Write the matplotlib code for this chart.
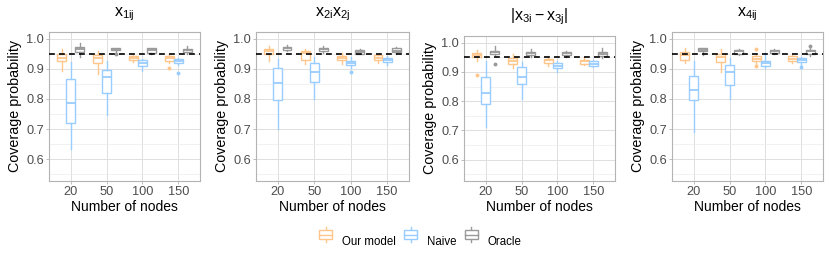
import matplotlib
matplotlib.use("Agg")
import matplotlib.pyplot as plt
from matplotlib.legend_handler import HandlerBase
from matplotlib.lines import Line2D
from matplotlib.patches import Rectangle

plt.rcParams["font.family"] = ["Liberation Sans", "DejaVu Sans"]
plt.rcParams["mathtext.fontset"] = "custom"
plt.rcParams["mathtext.rm"] = "Liberation Sans"
plt.rcParams["mathtext.it"] = "Liberation Sans"

sizes = ["20", "50", "100", "150"]
methods = ["Our model", "Naive", "Oracle"]
colors = ["#FFC68C", "#99CCFF", "#999999"]
titles = [r"$\mathrm{x_{1ij}}$", r"$\mathrm{x_{2i}x_{2j}}$",
          r"$|\mathrm{x_{3i}}-\mathrm{x_{3j}}|$", r"$\mathrm{x_{4ij}}$"]

# five-number summaries per node count: (whisker low, q1, median, q3, whisker high)
p1_ours = [(0.893, 0.926, 0.937, 0.948, 0.967), (0.882, 0.921, 0.937, 0.945, 0.960),
           (0.924, 0.931, 0.937, 0.943, 0.945), (0.921, 0.926, 0.935, 0.943, 0.948)]
p1_naive = [(0.635, 0.720, 0.787, 0.866, 0.923), (0.747, 0.819, 0.874, 0.896, 0.926),
            (0.893, 0.911, 0.920, 0.929, 0.932), (0.912, 0.919, 0.926, 0.932, 0.937)]
p1_oracle = [(0.940, 0.957, 0.965, 0.972, 0.985), (0.950, 0.962, 0.965, 0.968, 0.970),
             (0.948, 0.954, 0.962, 0.968, 0.970), (0.950, 0.956, 0.962, 0.967, 0.975)]
p1_fliers = {"Our model": [[], [], [], [0.904]], "Naive": [[], [], [], [0.886]],
             "Oracle": [[], [0.948], [], []]}

p2_ours = [(0.926, 0.948, 0.959, 0.967, 0.975), (0.915, 0.928, 0.954, 0.961, 0.967),
           (0.917, 0.929, 0.935, 0.942, 0.954), (0.920, 0.931, 0.937, 0.945, 0.950)]
p2_naive = [(0.700, 0.796, 0.853, 0.904, 0.932), (0.800, 0.858, 0.891, 0.921, 0.939),
            (0.904, 0.912, 0.920, 0.926, 0.939), (0.913, 0.922, 0.928, 0.935, 0.943)]
p2_oracle = [(0.959, 0.963, 0.968, 0.974, 0.978), (0.954, 0.959, 0.966, 0.971, 0.976),
             (0.948, 0.951, 0.957, 0.963, 0.965), (0.950, 0.956, 0.961, 0.968, 0.972)]
p2_fliers = {"Our model": [[], [], [], []], "Naive": [[], [], [0.890], []],
             "Oracle": [[], [], [], []]}

p3_ours = [(0.936, 0.950, 0.958, 0.965, 0.975), (0.912, 0.928, 0.936, 0.947, 0.961),
           (0.921, 0.932, 0.939, 0.945, 0.953), (0.923, 0.928, 0.936, 0.942, 0.950)]
p3_naive = [(0.713, 0.789, 0.829, 0.884, 0.936), (0.809, 0.857, 0.884, 0.917, 0.934),
            (0.901, 0.912, 0.921, 0.931, 0.936), (0.917, 0.921, 0.928, 0.936, 0.942)]
p3_oracle = [(0.958, 0.961, 0.967, 0.972, 0.987), (0.950, 0.956, 0.965, 0.969, 0.978),
             (0.950, 0.958, 0.965, 0.969, 0.972), (0.948, 0.955, 0.961, 0.967, 0.980)]
p3_fliers = {"Our model": [[0.890], [], [], []], "Naive": [[], [], [], []],
             "Oracle": [[0.926], [], [], []]}

p4_ours = [(0.920, 0.931, 0.947, 0.955, 0.971), (0.890, 0.922, 0.938, 0.949, 0.966),
           (0.914, 0.925, 0.934, 0.942, 0.949), (0.920, 0.927, 0.934, 0.942, 0.947)]
p4_naive = [(0.689, 0.796, 0.829, 0.876, 0.925), (0.799, 0.848, 0.890, 0.914, 0.936),
            (0.903, 0.909, 0.920, 0.925, 0.953), (0.914, 0.923, 0.930, 0.936, 0.938)]
p4_oracle = [(0.947, 0.958, 0.964, 0.968, 0.971), (0.947, 0.951, 0.958, 0.964, 0.966),
             (0.949, 0.953, 0.958, 0.964, 0.967), (0.942, 0.949, 0.958, 0.964, 0.969)]
p4_fliers = {"Our model": [[], [], [0.966, 0.909], []], "Naive": [[], [], [], [0.907]],
             "Oracle": [[], [], [], [0.977]]}

panels = [
    (p1_ours, p1_naive, p1_oracle, p1_fliers),
    (p2_ours, p2_naive, p2_oracle, p2_fliers),
    (p3_ours, p3_naive, p3_oracle, p3_fliers),
    (p4_ours, p4_naive, p4_oracle, p4_fliers),
]
target = 0.95

W, H = 830, 258
# panel boxes in pixels: left, top, right, bottom
boxes_px = [(49, 32, 200, 181), (256, 32, 409, 181), (464, 36, 615, 181), (672, 32, 823, 181)]
title_y = [14, 14, 17, 14]

fig = plt.figure(figsize=(W / 100, H / 100), dpi=100)
offsets = [-0.25, 0.0, 0.25]

for k, (l, t, r, b) in enumerate(boxes_px):
    ax = fig.add_axes([l / W, 1 - b / H, (r - l) / W, (b - t) / H])
    ours, naive, oracle, fliers = panels[k]
    for m, (summ, col) in enumerate(zip((ours, naive, oracle), colors)):
        stats = []
        for i, (lo, q1, med, q3, hi) in enumerate(summ):
            stats.append(dict(whislo=lo, q1=q1, med=med, q3=q3, whishi=hi,
                              fliers=fliers[methods[m]][i]))
        pos = [i + 1 + offsets[m] for i in range(len(sizes))]
        ax.bxp(stats, positions=pos, widths=0.24, showcaps=False, patch_artist=True,
               boxprops=dict(facecolor="white", edgecolor=col, linewidth=1.0),
               medianprops=dict(color=col, linewidth=1.3),
               whiskerprops=dict(color=col, linewidth=1.0),
               flierprops=dict(marker="o", markersize=1.8, markerfacecolor=col,
                               markeredgecolor=col),
               manage_ticks=False, zorder=3)
    ax.axhline(target, color="black", linestyle=(0, (3.5, 2.5)), linewidth=1.2, zorder=4)
    ax.set_xlim(0.4, 4.6)
    ax.set_ylim(0.5275, 1.0225)
    ax.set_xticks(range(1, len(sizes) + 1))
    ax.set_xticklabels(sizes)
    ax.set_yticks([0.6, 0.7, 0.8, 0.9, 1.0])
    ax.set_yticks([0.55, 0.65, 0.75, 0.85, 0.95], minor=True)
    ax.grid(True, which="major", color="#DEDEDE", linewidth=0.7, zorder=0)
    ax.grid(True, which="minor", axis="y", color="#EBEBEB", linewidth=0.5, zorder=0)
    ax.set_axisbelow(True)
    ax.tick_params(axis="both", which="major", length=2.2, width=0.6, color="#B3B3B3",
                   labelsize=9.2, labelcolor="#4D4D4D", pad=1.5)
    ax.tick_params(axis="y", which="minor", length=0)
    for s in ax.spines.values():
        s.set_color("#B3B3B3")
        s.set_linewidth(0.8)
    ax.set_xlabel("Number of nodes", fontsize=10, labelpad=1)
    ax.set_ylabel("Coverage probability", fontsize=10.3, labelpad=3)
    fig.text((l + r) / 2 / W, 1 - title_y[k] / H, titles[k], ha="center", va="center",
             fontsize=11.5)


class BoxHandler(HandlerBase):
    def create_artists(self, legend, orig_handle, xd, yd, width, height, fontsize, trans):
        col = orig_handle.get_color()
        cx = xd + width / 2
        bw = width * 0.9
        rect = Rectangle((cx - bw / 2, yd + height * 0.2), bw, height * 0.6,
                         facecolor="white", edgecolor=col, linewidth=1.0, transform=trans)
        med = Line2D([cx - bw / 2, cx + bw / 2], [yd + height * 0.5] * 2, color=col,
                     linewidth=1.0, transform=trans)
        w1 = Line2D([cx, cx], [yd - height * 0.05, yd + height * 0.2], color=col,
                    linewidth=1.0, transform=trans)
        w2 = Line2D([cx, cx], [yd + height * 0.8, yd + height * 1.05], color=col,
                    linewidth=1.0, transform=trans)
        return [w1, w2, rect, med]


handles = [Line2D([], [], color=c) for c in colors]
fig.legend(handles, methods, handler_map={Line2D: BoxHandler()}, loc="center",
           bbox_to_anchor=(420 / W, 1 - 241 / H), ncol=3, frameon=False, fontsize=8.3,
           handlelength=1.3, handleheight=1.5, handletextpad=0.8, columnspacing=0.6)

fig.savefig("out.png", dpi=100)
